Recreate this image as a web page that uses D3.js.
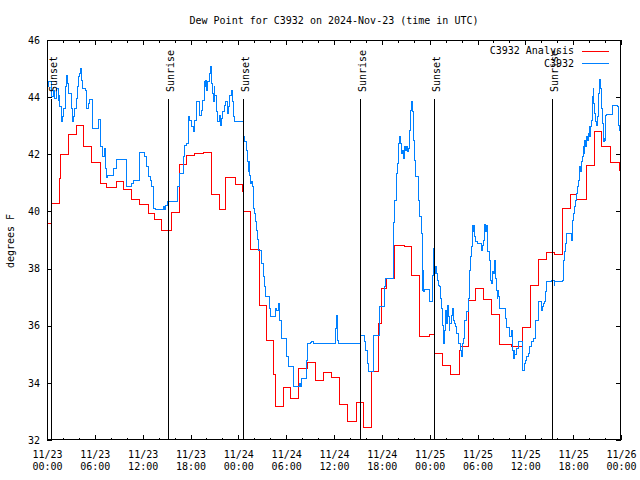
<!DOCTYPE html>
<html><head><meta charset="utf-8">
<script src="https://cdn.jsdelivr.net/npm/d3@7"></script>
<style>
body{margin:0;background:#fff}
text{font-family:"DejaVu Sans Mono",monospace;font-size:10px;fill:#000}
</style>
</head><body><svg id="chart" width="640" height="480"></svg>
<script>
// hours since 2024-11-23 00:00 UTC
const titleText = "Dew Point for C3932 on 2024-Nov-23 (time in UTC)";
const yLabel = "degrees F";
const seriesNames = ["C3932 Analysis", "C3932"];
const seriesColors = ["#ff0000", "#0080ff"];
const yTicks = [32, 34, 36, 38, 40, 42, 44, 46];
const xTickHours = [0, 6, 12, 18, 24, 30, 36, 42, 48, 54, 60, 66, 72];
const xTickDates = ["11/23","11/23","11/23","11/23","11/24","11/24","11/24","11/24","11/25","11/25","11/25","11/25","11/26"];
const xTickTimes = ["00:00","06:00","12:00","18:00","00:00","06:00","12:00","18:00","00:00","06:00","12:00","18:00","00:00"];
const sunHours = [0.54, 15.22, 24.62, 39.30, 48.58, 63.38];
const sunLabels = ["Sunset", "Sunrise", "Sunset", "Sunrise", "Sunset", "Sunrise"];

// analysis (step series): [hour, degF]
const analysisSteps = [[0,39.58],[0.58,40.28],[1.55,41.16],[1.75,42.0],[2.68,42.70],[3.64,43.01],[4.56,42.27],[5.6,41.72],[6.65,40.98],[7.5,40.83],[8.74,41.04],[9.57,40.78],[10.6,40.42],[11.66,40.24],[12.7,39.93],[13.5,39.72],[14.4,39.33],[15.6,39.96],[16.6,41.66],[17.5,41.95],[18.56,42.03],[19.6,42.07],[20.65,40.61],[21.7,40.07],[22.45,41.18],[23.6,40.93],[24.55,40.69],[24.63,39.99],[25.55,38.67],[26.6,36.72],[27.55,35.50],[28.45,34.3],[28.6,33.19],[29.64,33.84],[30.56,33.46],[31.6,34.51],[32.65,34.72],[33.7,34.10],[34.74,34.36],[35.69,34.18],[36.66,33.25],[37.67,32.66],[38.76,33.32],[39.7,32.44],[40.75,34.39],[41.56,36.08],[41.97,37.31],[42.6,37.66],[43.56,38.82],[44.9,38.79],[45.74,37.77],[46.7,35.62],[48.03,35.70],[48.6,35.03],[49.65,34.62],[50.6,34.30],[51.7,35.15],[51.88,35.27],[52.84,36.90],[53.8,37.31],[54.72,36.92],[55.77,36.41],[56.73,35.35],[58.28,35.29],[59.6,35.94],[60.66,37.42],[61.71,38.32],[62.67,38.57],[63.71,38.51],[64.67,40.11],[65.68,40.61],[66.43,40.42],[67.68,41.62],[68.73,42.81],[69.56,42.29],[70.69,41.71],[71.86,41.45],[72,41.45]];

// station observations: [hour, degF]
const observations = [[0,44.54],[0.1,44.37],[0.25,44.54],[0.59,44.02],[0.79,44.25],[1.0,43.96],[1.21,44.31],[1.42,43.9],[1.55,44.07],[1.63,43.67],[1.84,43.14],[1.96,43.32],[2.05,43.61],[2.26,43.9],[2.38,44.37],[2.47,44.77],[2.59,44.48],[2.68,44.13],[3.09,43.61],[3.22,43.14],[3.30,43.32],[3.51,43.61],[3.64,43.96],[3.80,44.37],[3.93,44.72],[4.06,44.83],[4.18,45.01],[4.35,44.6],[4.47,44.31],[4.77,44.25],[4.97,43.61],[5.18,43.78],[5.31,43.92],[5.73,42.91],[6.44,43.22],[6.77,42.27],[6.9,41.92],[7.19,42.21],[7.32,41.51],[7.44,41.19],[7.61,41.25],[8.32,41.51],[8.74,41.83],[9.99,40.87],[10.62,40.98],[10.83,41.1],[11.66,42.07],[12.29,41.92],[12.5,41.57],[12.71,41.22],[12.92,41.1],[13.13,40.87],[13.34,40.11],[13.55,40.07],[14.59,40.17],[14.8,40.07],[14.92,40.21],[15.09,40.34],[16.39,40.87],[16.68,41.33],[17.1,41.92],[17.22,42.32],[17.52,42.38],[17.73,43.32],[17.93,43.2],[18.14,42.97],[18.35,42.79],[18.56,43.2],[18.77,43.84],[19.19,43.37],[19.4,43.55],[19.52,43.9],[19.73,44.54],[19.82,44.37],[19.94,44.6],[20.03,44.25],[20.15,44.54],[20.36,44.83],[20.53,45.09],[20.65,44.48],[20.78,44.13],[20.86,43.84],[20.99,44.37],[21.07,44.07],[21.28,43.49],[21.4,43.14],[21.61,43.37],[21.78,43.02],[21.91,43.26],[22.03,43.49],[22.24,43.72],[22.45,43.84],[22.58,43.43],[22.74,43.67],[22.95,44.07],[23.16,44.25],[23.29,43.84],[23.45,43.32],[23.58,43.14],[24.62,42.97],[24.71,42.62],[24.83,42.44],[25.04,42.15],[25.17,41.74],[25.25,41.39],[25.38,41.74],[25.46,41.27],[25.54,40.98],[25.67,41.04],[25.79,40.87],[25.88,40.4],[25.96,40.11],[26.09,39.93],[26.21,39.64],[26.3,39.35],[26.4,39.03],[26.51,38.65],[26.92,38.18],[27.13,37.72],[27.34,37.37],[27.47,37.02],[27.97,36.61],[28.05,36.32],[28.6,36.61],[28.81,36.55],[29.01,36.78],[29.14,36.67],[29.22,36.2],[29.43,35.56],[30.06,34.92],[30.27,34.57],[30.89,33.87],[31.65,33.98],[31.82,33.87],[31.95,34.16],[32.49,34.8],[32.65,35.38],[32.99,35.41],[33.19,35.44],[33.4,35.38],[36.25,35.91],[36.33,36.37],[36.45,35.5],[36.54,35.38],[39.38,35.67],[39.88,35.44],[40.0,35.15],[40.21,34.68],[40.3,34.39],[40.93,35.67],[41.68,36.2],[41.76,36.67],[42.31,37.37],[42.52,37.66],[43.43,38.65],[43.5,39.6],[43.65,40.4],[43.85,41.33],[43.98,41.68],[44.06,42.38],[44.27,42.62],[44.36,42.38],[44.48,42.03],[44.61,42.15],[44.69,41.86],[44.82,42.27],[44.98,42.15],[45.11,42.27],[45.19,42.09],[45.32,42.21],[45.44,42.5],[45.53,42.85],[45.65,43.55],[45.78,43.84],[45.86,43.49],[45.94,42.5],[46.15,41.8],[46.28,41.22],[46.57,40.4],[46.78,39.82],[46.99,39.23],[47.05,38.18],[47.12,37.25],[47.2,37.95],[47.27,37.19],[47.41,37.27],[47.95,36.84],[48.33,37.77],[48.45,38.71],[48.53,38.18],[48.66,37.83],[48.79,38.07],[48.87,37.83],[48.95,37.6],[49.08,37.42],[49.29,37.37],[49.37,36.96],[49.5,36.61],[49.58,36.02],[49.71,35.62],[49.79,35.38],[49.87,35.85],[50.0,36.55],[50.12,36.08],[50.2,36.72],[50.33,36.32],[50.46,35.85],[50.54,36.08],[50.75,36.37],[50.87,36.61],[50.96,36.43],[51.04,36.2],[51.17,36.08],[51.3,35.97],[51.38,35.73],[51.59,35.38],[51.88,35.15],[52.01,34.92],[52.13,35.38],[52.22,35.56],[52.34,35.85],[52.43,36.2],[52.63,36.49],[52.84,36.96],[52.97,37.37],[53.05,37.95],[53.18,38.42],[53.26,38.77],[53.34,39.52],[53.45,39.29],[53.55,39.5],[53.68,39.12],[53.8,38.95],[53.97,38.88],[54.52,38.65],[54.64,38.8],[54.81,39.0],[54.93,39.55],[55.02,39.3],[55.12,39.5],[55.2,39.05],[55.27,38.59],[55.48,38.3],[55.69,37.6],[55.81,37.48],[55.9,37.9],[55.99,37.83],[56.11,38.3],[56.2,37.95],[56.28,37.66],[56.4,37.25],[56.48,36.96],[56.55,37.25],[56.62,37.02],[56.74,36.61],[57.57,36.26],[57.65,35.94],[58.07,35.62],[58.3,35.85],[58.38,35.62],[58.45,35.15],[58.53,34.86],[58.62,35.15],[58.7,34.98],[58.91,35.21],[59.11,35.44],[59.62,34.45],[59.95,34.68],[60.05,34.8],[60.16,34.92],[60.37,35.03],[60.49,35.27],[60.78,35.44],[60.99,35.56],[61.29,36.2],[61.62,36.84],[62.04,36.55],[62.16,36.67],[62.25,36.78],[62.46,36.84],[62.58,37.19],[62.67,37.54],[63.3,37.6],[63.63,37.42],[63.71,37.54],[64.67,37.6],[64.76,37.83],[64.84,38.3],[64.97,38.59],[65.1,38.88],[65.18,39.23],[65.74,39.0],[65.87,39.41],[65.95,39.7],[66.07,39.93],[66.16,40.17],[66.28,40.4],[66.43,40.63],[66.51,40.87],[66.64,41.1],[66.76,41.45],[66.85,41.57],[66.97,41.39],[67.06,41.74],[67.18,41.92],[67.27,42.27],[67.39,42.03],[67.47,42.5],[67.6,42.27],[67.68,42.62],[67.81,42.5],[67.89,42.73],[68.02,42.97],[68.1,42.62],[68.23,42.97],[68.31,43.2],[68.44,44.02],[68.52,44.31],[68.6,43.78],[68.73,43.43],[68.85,43.14],[68.94,43.02],[69.02,43.32],[69.15,44.13],[69.27,44.43],[69.36,44.62],[69.44,44.31],[69.56,43.61],[69.69,43.08],[69.77,42.44],[69.9,42.56],[69.98,42.5],[70.11,43.37],[70.19,43.41],[70.94,43.72],[71.53,43.67],[71.66,43.32],[71.74,43.02],[71.78,42.85],[71.86,42.97],[71.95,43.08],[72,43.08]];

const W = 640, H = 480;
const L = 47, R = 621, T = 40, B = 440;
const svg = d3.select("#chart");
svg.append("rect").attr("width", W).attr("height", H).attr("fill", "#fff");

const x = d3.scaleLinear().domain([0, 72]).range([L, R]);
const y = d3.scaleLinear().domain([32, 46]).range([B, T]);

// title
svg.append("text").attr("x", 334).attr("y", 24).attr("text-anchor", "middle").text(titleText);
// y label
svg.append("text").attr("transform", "translate(14,241) rotate(-90)").attr("text-anchor", "middle").text(yLabel);

const minorHours = d3.range(0, 73, 2);

// bottom axis
const gB = svg.append("g").attr("transform", `translate(0,${B})`).attr("shape-rendering", "crispEdges");
gB.call(d3.axisBottom(x).tickValues(minorHours).tickSizeInner(-2.5).tickSizeOuter(0).tickFormat(""));
gB.append("g").call(d3.axisBottom(x).tickValues(xTickHours).tickSizeInner(-5).tickSizeOuter(0).tickFormat((d, i) => xTickDates[i]));
gB.selectAll(".domain").remove();
gB.selectAll(".tick text").filter(function () { return this.textContent !== ""; }).each(function (d, i) {
  const t = d3.select(this);
  const idx = xTickHours.indexOf(d);
  t.text(null).attr("y", 17.5).attr("dy", null);
  t.append("tspan").attr("x", 0).attr("dy", 0).text(xTickDates[idx]);
  t.append("tspan").attr("x", 0).attr("dy", 12.5).text(xTickTimes[idx]);
});
// top axis (mirror ticks)
const gT = svg.append("g").attr("transform", `translate(0,${T})`).attr("shape-rendering", "crispEdges");
gT.call(d3.axisTop(x).tickValues(minorHours).tickSizeInner(-2.5).tickSizeOuter(0).tickFormat(""));
gT.append("g").call(d3.axisTop(x).tickValues(xTickHours).tickSizeInner(-5).tickSizeOuter(0).tickFormat(""));
gT.selectAll(".domain").remove();
// left axis
const gL = svg.append("g").attr("transform", `translate(${L},0)`).attr("shape-rendering", "crispEdges");
gL.call(d3.axisLeft(y).tickValues(yTicks).tickSizeInner(-5).tickSizeOuter(0).tickPadding(7).tickFormat(d3.format("d")));
gL.selectAll(".domain").remove();
// right axis
const gR = svg.append("g").attr("transform", `translate(${R},0)`).attr("shape-rendering", "crispEdges");
gR.call(d3.axisRight(y).tickValues(yTicks).tickSizeInner(-5).tickSizeOuter(0).tickFormat(""));
gR.selectAll(".domain").remove();

svg.selectAll(".tick line").attr("stroke", "#000");

// data lines
const line = d3.line().x(d => x(d[0])).y(d => y(d[1])).curve(d3.curveStepAfter);
const plot = svg.append("g");
plot.append("path").datum(analysisSteps).attr("d", line)
  .attr("fill", "none").attr("stroke", seriesColors[0]).attr("stroke-width", 1).attr("shape-rendering", "crispEdges");
plot.append("path").datum(observations).attr("d", line)
  .attr("fill", "none").attr("stroke", seriesColors[1]).attr("stroke-width", 1).attr("shape-rendering", "crispEdges");

// sunrise / sunset markers
const sun = svg.append("g");
sun.selectAll("line").data(sunHours).join("line")
  .attr("x1", d => Math.round(x(d)) + 0.5).attr("x2", d => Math.round(x(d)) + 0.5)
  .attr("y1", 99).attr("y2", B).attr("stroke", "#000").attr("stroke-width", 1);
sun.selectAll("text").data(sunHours).join("text")
  .attr("transform", d => `translate(${Math.round(x(d)) + 6},92) rotate(-90)`)
  .attr("text-anchor", "start").text((d, i) => sunLabels[i]);

// border
svg.append("rect").attr("x", L + 0.5).attr("y", T + 0.5).attr("width", R - L - 1).attr("height", B - T - 1)
  .attr("fill", "none").attr("stroke", "#000").attr("stroke-width", 1);

// legend
const leg = svg.append("g");
seriesNames.forEach((name, i) => {
  const yy = 50.5 + i * 12.5;
  leg.append("text").attr("x", 574).attr("y", yy + 3.5).attr("text-anchor", "end").text(name);
  leg.append("line").attr("x1", 582).attr("x2", 609).attr("y1", Math.round(yy) + 0.5).attr("y2", Math.round(yy) + 0.5)
    .attr("stroke", seriesColors[i]).attr("stroke-width", 1);
});
</script>
</body></html>
